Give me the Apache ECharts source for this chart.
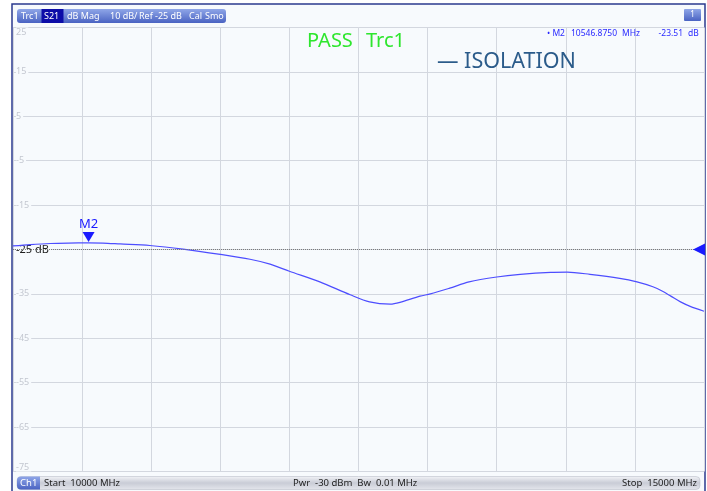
<!DOCTYPE html>
<html>
<head>
<meta charset="utf-8">
<script src="https://cdn.jsdelivr.net/npm/echarts@6/dist/echarts.min.js"></script>
<style>html,body{margin:0;padding:0;background:#fff}#c{width:707px;height:491px}</style>
</head>
<body>
<div id="c"></div>
<script>
// ---- data ----
const freqMHz = [10000, 10125, 10270, 10400, 10547, 10650, 10775, 10990, 11230, 11500, 11715, 11860, 12000, 12220, 12440, 12580, 12730, 12800, 12945, 13020, 13160, 13300, 13500, 13670, 13890, 14010, 14175, 14390, 14515, 14630, 14700, 14760, 14830, 14900, 15000];
const isolationDb = [-24.2, -23.9, -23.65, -23.55, -23.51, -23.55, -23.75, -24.1, -24.9, -26.1, -27.2, -28.3, -29.9, -32.3, -35.2, -36.8, -37.3, -36.9, -35.5, -35.0, -33.7, -32.3, -31.2, -30.6, -30.15, -30.1, -30.6, -31.5, -32.3, -33.4, -34.4, -35.5, -36.8, -37.8, -38.9];
const markerName = 'M2';
const markerFreq = 10546.875;
const markerDb = -23.51;
const refLevel = -25;
const yTicks = {min: -75, max: 25, step: 10};
const xTicks = {min: 10000, max: 15000, step: 500};

const FONT = 'Noto Sans';
const chart = echarts.init(document.getElementById('c'), null, {renderer: 'canvas'});
const seriesData = freqMHz.map((f, i) => [f, isolationDb[i]]);

const barGrad = {type: 'linear', x: 0, y: 0, x2: 0, y2: 1, colorStops: [{offset: 0, color: '#8fa6e8'}, {offset: 1, color: '#4a63c2'}]};
const grayGrad = {type: 'linear', x: 0, y: 0, x2: 0, y2: 1, colorStops: [{offset: 0, color: '#f2f3f7'}, {offset: 0.5, color: '#c9ccd6'}, {offset: 1, color: '#e4e6ec'}]};

function txt(x, y, s, opt) {
  return Object.assign({type: 'text', x: x, y: y, z: 100, style: Object.assign({text: s, fill: '#ffffff', font: '9px "' + FONT + '"', textVerticalAlign: 'middle'}, opt || {})});
}
const blueInfo = {fill: '#2a2aff', font: '8.5px "' + FONT + '"'};
const barTxt = {fill: '#1e1e1e', font: '9.5px "' + FONT + '"'};

chart.setOption({
  backgroundColor: '#ffffff',
  animation: false,
  grid: {left: 13, right: 3, top: 27.5, bottom: 19.5, containLabel: false},
  xAxis: {
    type: 'value', min: xTicks.min, max: xTicks.max, interval: xTicks.step,
    axisLine: {show: false}, axisTick: {show: false}, axisLabel: {show: false},
    splitLine: {show: true, lineStyle: {color: '#d3d7df', width: 1}}
  },
  yAxis: {
    type: 'value', min: yTicks.min, max: yTicks.max, interval: yTicks.step,
    axisLine: {show: false}, axisTick: {show: false},
    splitLine: {show: true, lineStyle: {color: '#d3d7df', width: 1}},
    axisLabel: {
      inside: true, margin: 3, color: '#c3c7d0', fontSize: 9, fontFamily: FONT,
      backgroundColor: '#f7fafd', padding: [0, 2, 0, 0],
      verticalAlignMaxLabel: 'top', verticalAlignMinLabel: 'bottom',
      formatter: v => (v === refLevel ? '{ref|' + v + ' dB}' : String(v)),
      rich: {ref: {color: '#1e1e1e', fontSize: 11, fontFamily: FONT}}
    }
  },
  graphic: [
    {type: 'rect', z: -100, shape: {x: 12, y: 4, width: 693, height: 488}, style: {fill: '#f7fafd', stroke: '#2b3a8f', lineWidth: 1.5}},
    // header bar
    {type: 'rect', z: 90, shape: {x: 17, y: 9, width: 209, height: 14, r: 3}, style: {fill: barGrad}},
    {type: 'rect', z: 91, shape: {x: 41.5, y: 9, width: 22, height: 14}, style: {fill: '#0c0ca8'}},
    txt(21, 16.5, 'Trc1'), txt(44, 16.5, 'S21'), txt(67, 16.5, 'dB Mag'), txt(110, 16.5, '10 dB/'),
    txt(139, 16.5, 'Ref'), txt(155, 16.5, '-25 dB'), txt(189, 16.5, 'Cal'), txt(205, 16.5, 'Smo'),
    // channel number box
    {type: 'rect', z: 90, shape: {x: 684, y: 9, width: 17, height: 12, r: 1}, style: {fill: barGrad}},
    txt(692.5, 15, '1', {textAlign: 'center', font: '8px "' + FONT + '"'}),
    // marker info
    txt(547, 34, '\u2022 ' + markerName, blueInfo),
    txt(617, 34, markerFreq.toFixed(4), Object.assign({textAlign: 'right'}, blueInfo)),
    txt(622, 34, 'MHz', blueInfo),
    txt(683, 34, markerDb.toFixed(2), Object.assign({textAlign: 'right'}, blueInfo)),
    txt(688, 34, 'dB', blueInfo),
    // pass/fail and legend
    txt(307, 41, 'PASS', {fill: '#2ee62e', font: '20px "' + FONT + '"'}),
    txt(366, 41, 'Trc1', {fill: '#2ee62e', font: '20px "' + FONT + '"'}),
    txt(437, 61.5, '\u2014 ISOLATION', {fill: '#2b5b8a', font: '21.5px "' + FONT + '"'}),
    // bottom bar
    {type: 'rect', z: 90, shape: {x: 17, y: 476.5, width: 683, height: 13, r: 4}, style: {fill: grayGrad, stroke: '#b0b4c0', lineWidth: 0.5}},
    {type: 'rect', z: 91, shape: {x: 17, y: 476.5, width: 23, height: 13, r: [4, 0, 0, 4]}, style: {fill: barGrad}},
    txt(20, 483, 'Ch1', {font: '9.5px "' + FONT + '"'}),
    txt(44, 483, 'Start  10000 MHz', barTxt),
    txt(293, 483, 'Pwr  -30 dBm  Bw  0.01 MHz', barTxt),
    txt(697, 483, 'Stop  15000 MHz', Object.assign({textAlign: 'right'}, barTxt))
  ],
  series: [{
    type: 'line', name: 'ISOLATION', data: seriesData, smooth: 0.3, showSymbol: false,
    lineStyle: {color: '#4d4dff', width: 1.2}, itemStyle: {color: '#4d4dff'},
    markLine: {
      silent: true, symbol: ['none', 'none'], label: {show: false},
      lineStyle: {color: '#7a7a7a', type: 'dotted', width: 1},
      data: [[{coord: [xTicks.min, refLevel]}, {coord: [14930, refLevel]}]]
    },
    markPoint: {
      silent: true,
      data: [
        {coord: [markerFreq, markerDb], symbol: 'triangle', symbolRotate: 180, symbolSize: [12, 10], symbolOffset: [0, -6],
         itemStyle: {color: '#1a1aff'},
         label: {show: true, position: 'top', distance: 1, formatter: markerName, color: '#1a1aff', fontSize: 13, fontFamily: FONT}},
        {coord: [xTicks.max, refLevel], symbol: 'triangle', symbolRotate: 90, symbolSize: [12, 12], symbolOffset: [-5, 0],
         itemStyle: {color: '#1a1aff'}, label: {show: false}}
      ]
    }
  }]
});
</script>
</body>
</html>
